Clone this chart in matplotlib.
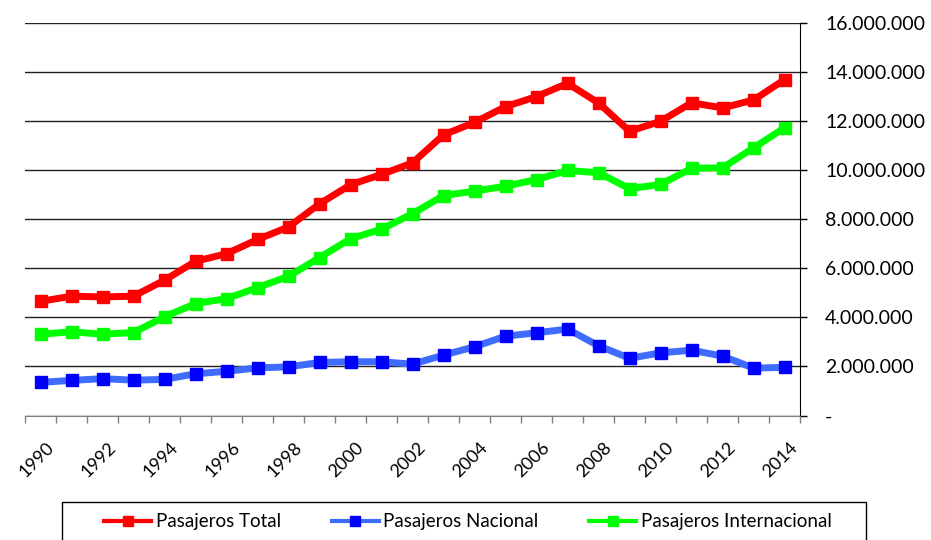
import matplotlib
matplotlib.use("Agg")
import matplotlib.pyplot as plt
from matplotlib.patches import Rectangle
from matplotlib.lines import Line2D
from matplotlib.ticker import FixedLocator, FuncFormatter
import matplotlib.transforms as mtransforms

years = list(range(1990, 2015))
total = [4.65, 4.86, 4.83, 4.86, 5.51, 6.28, 6.59, 7.17, 7.68, 8.62, 9.40, 9.82, 10.29,
         11.43, 11.94, 12.58, 12.99, 13.53, 12.73, 11.58, 11.98, 12.74, 12.53, 12.85, 13.68]
nacional = [1.35, 1.43, 1.50, 1.44, 1.47, 1.70, 1.80, 1.94, 1.98, 2.16, 2.19, 2.19, 2.09,
            2.46, 2.80, 3.23, 3.37, 3.52, 2.84, 2.33, 2.55, 2.66, 2.42, 1.93, 1.96]
internacional = [3.31, 3.41, 3.31, 3.38, 4.02, 4.56, 4.76, 5.21, 5.67, 6.43, 7.20, 7.59, 8.22,
                 8.96, 9.14, 9.34, 9.61, 9.98, 9.89, 9.24, 9.41, 10.07, 10.09, 10.90, 11.72]
total = [v * 1e6 for v in total]
nacional = [v * 1e6 for v in nacional]
internacional = [v * 1e6 for v in internacional]
series_labels = ["Pasajeros Total", "Pasajeros Nacional", "Pasajeros Internacional"]
yticks = [0, 2e6, 4e6, 6e6, 8e6, 10e6, 12e6, 14e6, 16e6]

plt.rcParams['font.family'] = ['Lato', 'DejaVu Sans']

W, H = 931, 540
fig = plt.figure(figsize=(W / 100, H / 100), dpi=100)
ax = fig.add_axes([25 / W, 1 - 415.5 / H, (800 - 25) / W, (415.5 - 22.7) / H])

x = list(range(len(years)))
lw = 5
ms = 8.5
styles = [
    dict(color='#FF0000', mfc='#FF0000', mec='#FF0000'),
    dict(color='#3F6CFF', mfc='#0000FF', mec='#0000FF'),
    dict(color='#00FF00', mfc='#00FF00', mec='#00FF00'),
]
for data, st, lab in zip([total, nacional, internacional], styles, series_labels):
    ax.plot(x, data, lw=lw, marker='s', ms=ms, label=lab, zorder=3, **st)

ax.set_xlim(-0.5, len(years) - 0.5)
ax.set_ylim(0, 16e6)

# y axis on right
ax.yaxis.tick_right()
ax.set_yticks(yticks)
ax.yaxis.set_major_formatter(FuncFormatter(
    lambda v, p: '-' if v == 0 else f"{int(v):,}".replace(',', '.')))
ax.tick_params(axis='y', which='major', length=5, width=1, color='black', pad=13,
               labelsize=14, labelcolor='black')
ax.grid(axis='y', color='#202020', lw=1, zorder=1)

# x axis
ax.set_xticks([i for i in x if years[i] % 2 == 0])
ax.set_xticklabels([str(y) for y in years if y % 2 == 0], rotation=45, ha='right',
                   va='top', rotation_mode='anchor', fontsize=13)
ax.tick_params(axis='x', which='major', length=0, pad=17)
offset = mtransforms.ScaledTranslation(5 / 100, 0, fig.dpi_scale_trans)
for lbl in ax.get_xticklabels():
    lbl.set_transform(lbl.get_transform() + offset)
ax.xaxis.set_minor_locator(FixedLocator([i - 0.5 for i in range(len(years) + 1)]))
ax.tick_params(axis='x', which='minor', length=5, width=1, color='#808080', direction='out')

for s in ['left', 'top']:
    ax.spines[s].set_visible(False)
ax.spines['bottom'].set_color('#808080')
ax.spines['right'].set_color('black')

# legend frame and legend
fig.patches.append(Rectangle((62 / W, 1 - 548 / H), (866 - 62) / W, (548 - 502) / H,
                             transform=fig.transFigure, fill=False, edgecolor='black',
                             lw=1, clip_on=False))
handles = [Line2D([], [], lw=3, marker='s', ms=7, **st) for st in styles]
fig.legend(handles, series_labels, loc='center', bbox_to_anchor=(468 / W, 1 - 522 / H), ncol=3,
           frameon=False, fontsize=13.5, handlelength=2.5, handletextpad=0.25,
           columnspacing=2.7)

fig.savefig('out.png', dpi=100)
